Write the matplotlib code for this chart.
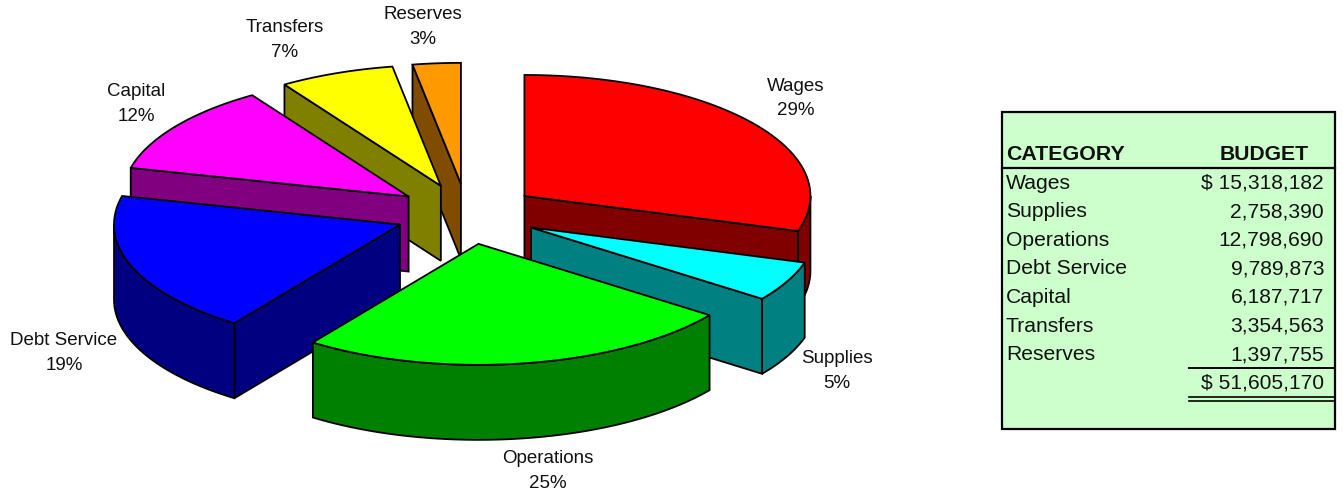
import matplotlib
matplotlib.use('Agg')
import matplotlib.pyplot as plt
import numpy as np

plt.rcParams['font.family'] = ['Liberation Sans', 'DejaVu Sans']

# Data
categories = ['Wages', 'Supplies', 'Operations', 'Debt Service', 'Capital', 'Transfers', 'Reserves']
budget = [15318182, 2758390, 12798690, 9789873, 6187717, 3354563, 1397755]
percent_labels = [29, 5, 25, 19, 12, 7, 3]
budget_text = ['$ 15,318,182', '2,758,390', '12,798,690', '9,789,873', '6,187,717', '3,354,563', '1,397,755']
total_text = '$ 51,605,170'

top_colors = ['#FF0000', '#00FFFF', '#00FF00', '#0000FF', '#FF00FF', '#FFFF00', '#FF9900']
side_colors = ['#800000', '#008080', '#008000', '#000080', '#800080', '#808000', '#804D00']

# pie geometry, in pixels
cx, cy = 467, 214
rx, ry = 286, 121
depth = 75
explode = 0.25
lw = 1.3

# where the labels go (centre of the text block)
label_pos = [(796, 98.5), (837, 371), (548, 471), (64, 353), (136, 104), (285, 40), (423, 27)]

fig = plt.figure(figsize=(13.43, 4.94), dpi=100)
ax = fig.add_axes([0, 0, 1, 1])
ax.set_xlim(0, 1343)
ax.set_ylim(494, 0)
ax.axis('off')

fractions = np.array(budget) / sum(budget)
edges = np.concatenate([[0], np.cumsum(fractions)]) * 360


def rim(t1, t2, ox, oy):
    t = np.radians(np.linspace(t1, t2, 80))
    return ox + rx * np.sin(t), oy - ry * np.cos(t)


def draw_slice(i):
    t1, t2 = edges[i], edges[i + 1]
    mid = np.radians((t1 + t2) / 2)
    ox = cx + rx * explode * np.sin(mid)
    oy = cy - ry * explode * np.cos(mid)
    style = dict(facecolor=side_colors[i], edgecolor='black', linewidth=lw)

    # flat walls facing the viewer
    for t, seen in ((t1, np.sin(np.radians(t1)) < 0), (t2, np.sin(np.radians(t2)) > 0)):
        if seen:
            ex, ey = rim(t, t, ox, oy)
            ax.fill([ox, ex[0], ex[0], ox], [oy, ey[0], ey[0] + depth, oy + depth], **style)

    # curved outer wall, front half only
    a, b = max(t1, 90), min(t2, 270)
    if a < b:
        x, y = rim(a, b, ox, oy)
        ax.fill(np.r_[x, x[::-1]], np.r_[y, y[::-1] + depth], **style)

    # top face
    x, y = rim(t1, t2, ox, oy)
    ax.fill(np.r_[ox, x], np.r_[oy, y], facecolor=top_colors[i], edgecolor='black', linewidth=lw)


# back to front
for i in [6, 5, 4, 0, 3, 1, 2]:
    draw_slice(i)

for name, pct, (lx, ly) in zip(categories, percent_labels, label_pos):
    ax.text(lx, ly, f'{name}\n{pct}%', ha='center', va='center', fontsize=13.5,
            color='#111111', linespacing=1.55)

# budget table
ax.fill([1002, 1335, 1335, 1002], [112, 112, 429, 429], facecolor='#CCFFCC', edgecolor='black', linewidth=1.6)
ax.text(1006, 154, 'CATEGORY', fontsize=15.4, fontweight='bold', va='center', color='#111111')
ax.text(1264, 154, 'BUDGET', fontsize=15.2, fontweight='bold', va='center', ha='center', color='#111111')
ax.plot([1002, 1335], [168, 168], color='black', lw=1.6)

row_y = 183 + 28.6 * np.arange(len(categories))
for name, amount, y in zip(categories, budget_text, row_y):
    ax.text(1006, y, name, fontsize=15.2, va='center', color='#111111')
    ax.text(1324, y, amount, fontsize=15.1, va='center', ha='right', color='#111111')
ax.text(1324, 383, total_text, fontsize=15.1, va='center', ha='right', color='#111111')

ax.plot([1189, 1335], [368, 368], color='black', lw=1.4)
ax.plot([1189, 1335], [397, 397], color='black', lw=1.2)
ax.plot([1189, 1335], [401, 401], color='black', lw=1.2)

fig.savefig('out.png', dpi=100)
